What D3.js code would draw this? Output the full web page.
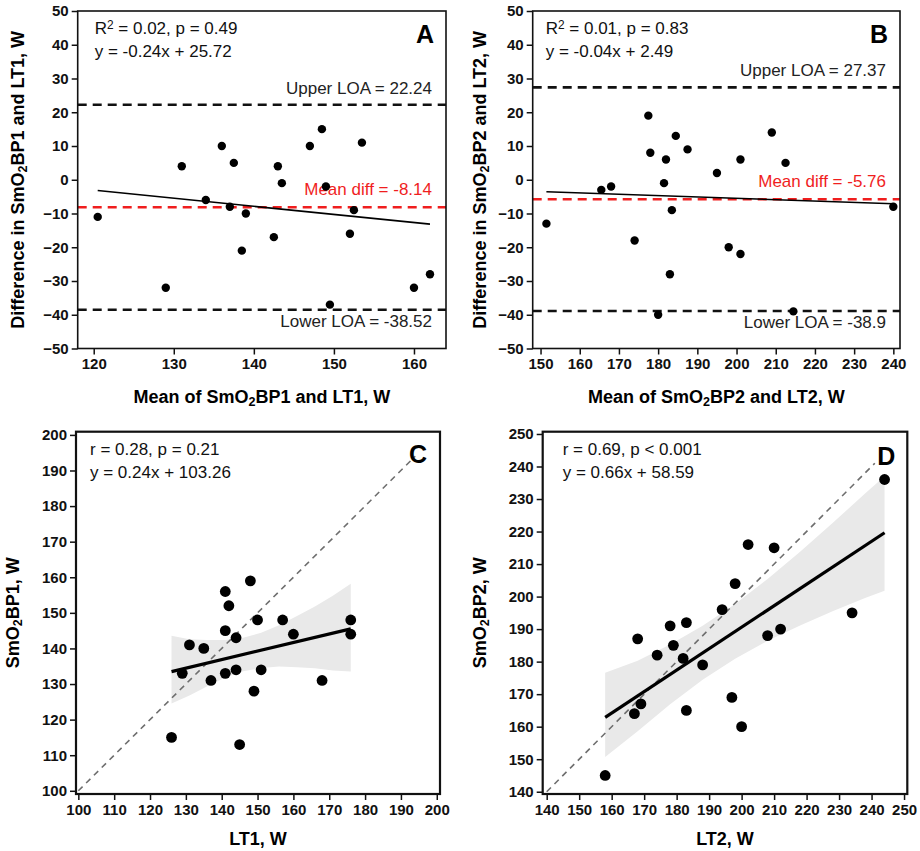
<!DOCTYPE html>
<html>
<head>
<meta charset="utf-8">
<script src="https://cdn.jsdelivr.net/npm/d3@7"></script>
<style>
  body { margin: 0; background: #fff; }
  svg { display: block; font-family: "Liberation Sans", Arial, sans-serif; }
</style>
</head>
<body>
<svg id="chart" width="920" height="851"></svg>
<script>
// ---- data ----
// A: Bland-Altman SmO2BP1 vs LT1
var meanA = [120.5, 129, 131, 134, 136, 137, 137.5, 138.5, 139, 142.5, 143, 143.5, 147, 148.5, 149, 149.5, 152, 152.5, 153.5, 160, 162];
var diffA = [-11, -32, 4, -6, 10, -8, 5, -21, -10, -17, 4, -1, 10, 15, -2, -37, -16, -9, 11, -32, -28];
var loaA = [22.24, -8.14, -38.52];   // upper, mean diff, lower
var fitA = [-0.24, 25.72];           // slope, intercept

// B: Bland-Altman SmO2BP2 vs LT2
var meanB = [151.5, 165.5, 168, 174, 177.5, 178, 180, 181.5, 182, 183, 183.5, 184.5, 187.5, 195, 198, 201, 201, 209, 212.5, 214.5, 240];
var diffB = [-13, -3, -2, -18, 19, 8, -40, -1, 6, -28, -9, 13, 9, 2, -20, 6, -22, 14, 5, -39, -8];
var loaB = [27.37, -5.76, -38.9];
var fitB = [-0.04, 2.49];

// C: SmO2BP1 vs LT1
var lt1 = [126, 129, 131, 135, 137, 141, 141, 141, 142, 144, 144, 145, 148, 149, 150, 151, 157, 160, 168, 176, 176];
var bp1 = [115, 133, 141, 140, 131, 156, 145, 133, 152, 143, 134, 113, 159, 128, 148, 134, 148, 144, 131, 148, 144];
var fitC = [0.24, 103.26];
var bandCx = [126, 131, 136, 141, 146, 151, 156, 161, 166, 171, 176];
var bandCup = [143.6, 142.6, 142.4, 142.4, 143, 144.4, 146.5, 149.1, 151.8, 154.8, 158.2];
var bandClo = [124.5, 126.8, 129.4, 131.8, 133.6, 134.5, 134.9, 134.7, 134.4, 133.8, 133.5];
var identC = [100, 194];

// D: SmO2BP2 vs LT2
var lt2 = [158, 167, 168, 169, 174, 178, 179, 182, 183, 183, 188, 194, 197, 198, 200, 202, 208, 210, 212, 234, 244];
var bp2 = [145, 164, 187, 167, 182, 191, 185, 181, 192, 165, 179, 196, 169, 204, 160, 216, 188, 215, 190, 195, 236];
var fitD = [0.66, 58.59];
var bandDx = [158, 168, 178, 188, 198, 208, 218, 228, 238, 244];
var bandDup = [176.6, 180.3, 185.3, 191, 197.7, 205.4, 213.8, 222.6, 231.7, 237];
var bandDlo = [150.7, 158.6, 166.9, 174.4, 180.9, 186.4, 191.1, 195.5, 199.6, 201.8];
var identD = [140, 241];

var ticksA = [120, 130, 140, 150, 160];
var ticksB = d3.range(150, 241, 10);
var ticksBA_y = d3.range(-50, 51, 10);
var ticksC = d3.range(100, 201, 10);
var ticksD = d3.range(140, 251, 10);

var svg = d3.select("#chart");

// text with _2 as subscript and ^2 as superscript
function richText(sel, str) {
    var parts = str.split(/([_^]\d)/);
    parts.forEach(function (p) {
        if (p === "") return;
        if (p[0] === "_") {
            sel.append("tspan").attr("font-size", "0.7em").attr("baseline-shift", "-25%").text(p[1]);
        } else if (p[0] === "^") {
            sel.append("tspan").attr("font-size", "0.7em").attr("baseline-shift", "45%").text(p[1]);
        } else {
            sel.append("tspan").text(p);
        }
    });
    return sel;
}

function panel(cfg) {
    var g = svg.append("g");
    var x = d3.scaleLinear().domain(cfg.xdom).range([cfg.left, cfg.right]);
    var y = d3.scaleLinear().domain(cfg.ydom).range([cfg.bottom, cfg.top]);
    var midX = (cfg.left + cfg.right) / 2, midY = (cfg.top + cfg.bottom) / 2;

    // axes
    var xa = g.append("g").attr("transform", "translate(0," + cfg.bottom + ")")
        .call(d3.axisBottom(x).tickValues(cfg.xticks).tickSize(6).tickPadding(4).tickFormat(d3.format("d")));
    var ya = g.append("g").attr("transform", "translate(" + cfg.left + ",0)")
        .call(d3.axisLeft(y).tickValues(cfg.yticks).tickSize(6).tickPadding(3).tickFormat(d3.format("d")));
    [xa, ya].forEach(function (a) {
        a.select(".domain").remove();
        a.selectAll(".tick line").attr("stroke", "#111").attr("stroke-width", 1.5);
        a.selectAll(".tick text").attr("fill", "#111").attr("font-size", 15)
            .attr("font-weight", "bold").attr("font-family", "'Liberation Sans', Arial, sans-serif");
    });

    if (cfg.band) {
        var area = d3.area().x(function (d) { return x(d[0]); })
            .y0(function (d) { return y(d[2]); }).y1(function (d) { return y(d[1]); });
        g.append("path").datum(cfg.band[0].map(function (v, i) { return [v, cfg.band[1][i], cfg.band[2][i]]; }))
            .attr("d", area).attr("fill", "#e9e9e9");
    }

    if (cfg.ident) {
        g.append("line")
            .attr("x1", x(cfg.ident[0])).attr("y1", y(cfg.ident[0]))
            .attr("x2", x(cfg.ident[1])).attr("y2", y(cfg.ident[1]))
            .attr("stroke", "#6e6e6e").attr("stroke-width", 1.6).attr("stroke-dasharray", "6,5");
    }

    if (cfg.loa) {
        g.selectAll(".loa").data(cfg.loa).enter().append("line")
            .attr("x1", cfg.left).attr("x2", cfg.right)
            .attr("y1", function (d) { return y(d); }).attr("y2", function (d) { return y(d); })
            .attr("stroke", function (d, i) { return i === 1 ? "#f01e1e" : "#111"; })
            .attr("stroke-width", 2.6).attr("stroke-dasharray", "9,6");
        var loaTxt = [["Upper LOA = " + cfg.loa[0], -11, "#222"],
                      ["Mean diff = " + cfg.loa[1], -12, "#f01e1e"],
                      ["Lower LOA = " + cfg.loa[2], 17, "#222"]];
        loaTxt.forEach(function (t, i) {
            g.append("text").attr("x", cfg.right - 14).attr("y", y(cfg.loa[i]) + t[1])
                .attr("text-anchor", "end").attr("font-size", 17).attr("fill", t[2]).text(t[0]);
        });
    }

    // points
    g.selectAll("circle").data(cfg.xs).enter().append("circle")
        .attr("cx", function (d) { return x(d); })
        .attr("cy", function (d, i) { return y(cfg.ys[i]); })
        .attr("r", cfg.r).attr("fill", "#000");

    // regression line
    var xmin = d3.min(cfg.xs), xmax = d3.max(cfg.xs);
    g.append("line")
        .attr("x1", x(xmin)).attr("y1", y(cfg.fit[0] * xmin + cfg.fit[1]))
        .attr("x2", x(xmax)).attr("y2", y(cfg.fit[0] * xmax + cfg.fit[1]))
        .attr("stroke", "#000").attr("stroke-width", cfg.fitW);

    // frame
    g.append("rect").attr("x", cfg.left).attr("y", cfg.top)
        .attr("width", cfg.right - cfg.left).attr("height", cfg.bottom - cfg.top)
        .attr("fill", "none").attr("stroke", "#111").attr("stroke-width", cfg.frameW);

    // stats text
    cfg.stats.forEach(function (s, i) {
        richText(g.append("text").attr("x", cfg.left + cfg.statDx).attr("y", cfg.top + 23 + i * 23)
            .attr("font-size", 17).attr("fill", "#111"), s);
    });

    // panel letter
    g.append("text").attr("x", cfg.right - cfg.letterDx).attr("y", cfg.top + cfg.letterDy)
        .attr("text-anchor", "end").attr("font-size", 25).attr("font-weight", "bold")
        .text(cfg.letter);

    // axis titles
    richText(g.append("text").attr("x", midX).attr("y", cfg.bottom + cfg.xtitleDy)
        .attr("text-anchor", "middle").attr("font-size", 18).attr("font-weight", "bold"), cfg.xtitle);
    richText(g.append("text")
        .attr("transform", "translate(" + cfg.ytitleX + "," + midY + ") rotate(-90)")
        .attr("text-anchor", "middle").attr("font-size", 18).attr("font-weight", "bold"), cfg.ytitle);
}

panel({
    left: 77.7, right: 446, top: 11, bottom: 348.5,
    xdom: [118, 164], ydom: [-50, 50], xticks: ticksA, yticks: ticksBA_y,
    xs: meanA, ys: diffA, r: 4.2, fit: fitA, fitW: 1.6, frameW: 1.6, loa: loaA,
    stats: ["R^2 = 0.02, p = 0.49", "y = -0.24x + 25.72"], statDx: 17,
    letter: "A", letterDx: 12, letterDy: 32,
    xtitle: "Mean of SmO_2BP1 and LT1, W", xtitleDy: 54,
    ytitle: "Difference in SmO_2BP1 and LT1, W", ytitleX: 24
});

panel({
    left: 532.7, right: 900, top: 11, bottom: 348.5,
    xdom: [148, 241.7], ydom: [-50, 50], xticks: ticksB, yticks: ticksBA_y,
    xs: meanB, ys: diffB, r: 4.2, fit: fitB, fitW: 1.6, frameW: 1.6, loa: loaB,
    stats: ["R^2 = 0.01, p = 0.83", "y = -0.04x + 2.49"], statDx: 13,
    letter: "B", letterDx: 12, letterDy: 32,
    xtitle: "Mean of SmO_2BP2 and LT2, W", xtitleDy: 54,
    ytitle: "Difference in SmO_2BP2 and LT2, W", ytitleX: 486
});

panel({
    left: 76, right: 440, top: 431.7, bottom: 794,
    xdom: [99.35, 200.9], ydom: [99.1, 200.9], xticks: ticksC, yticks: ticksC,
    xs: lt1, ys: bp1, r: 5.4, fit: fitC, fitW: 3.2, frameW: 2.2,
    band: [bandCx, bandCup, bandClo], ident: identC,
    stats: ["r = 0.28, p = 0.21", "y = 0.24x + 103.26"], statDx: 14,
    letter: "C", letterDx: 13, letterDy: 31,
    xtitle: "LT1, W", xtitleDy: 51,
    ytitle: "SmO_2BP1, W", ytitleX: 19
});

panel({
    left: 542.7, right: 907.3, top: 431.7, bottom: 794,
    xdom: [138.77, 251], ydom: [139.3, 250.7], xticks: ticksD, yticks: ticksD,
    xs: lt2, ys: bp2, r: 5.4, fit: fitD, fitW: 3.2, frameW: 2.2,
    band: [bandDx, bandDup, bandDlo], ident: identD,
    stats: ["r = 0.69, p < 0.001", "y = 0.66x + 58.59"], statDx: 20,
    letter: "D", letterDx: 12, letterDy: 33,
    xtitle: "LT2, W", xtitleDy: 51,
    ytitle: "SmO_2BP2, W", ytitleX: 486
});
</script>
</body>
</html>
